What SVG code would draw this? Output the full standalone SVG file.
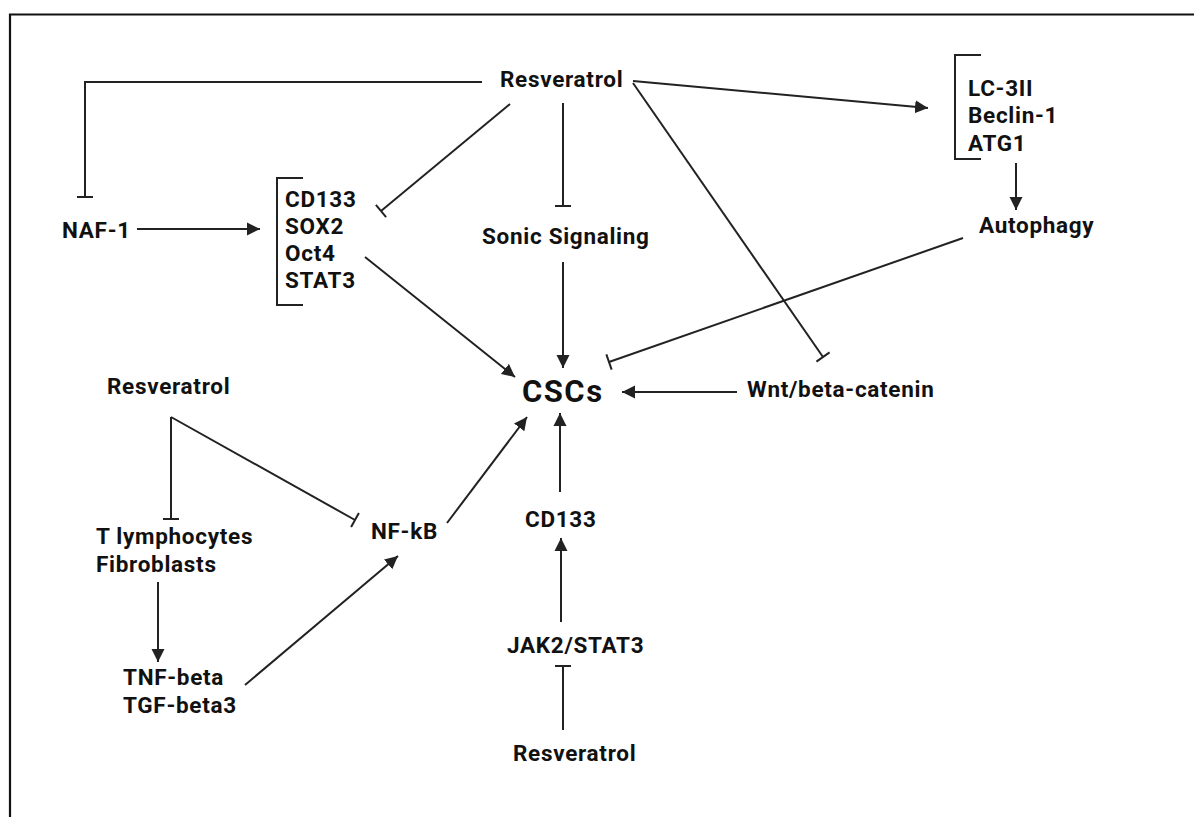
<svg xmlns="http://www.w3.org/2000/svg" width="1194" height="817" viewBox="0 0 1194 817">
<style>
  .t { font-family: Roboto, "Liberation Sans", sans-serif; font-weight: 700; font-size: 22.5px; letter-spacing: 0.7px; fill: #111; }
  .big { font-size: 31px; letter-spacing: 1.5px; }
  .c { fill: none; stroke: #222; stroke-width: 2; }
  .a { marker-end: url(#arrow); }
  .i { marker-end: url(#tee); }
</style>
<defs>
  <marker id="arrow" markerUnits="userSpaceOnUse" viewBox="0 0 14 14" refX="13" refY="7" markerWidth="14" markerHeight="14" orient="auto">
    <path d="M0,0.5 L13,7 L0,13.5 z" fill="#222"/>
  </marker>
  <marker id="tee" markerUnits="userSpaceOnUse" viewBox="-2 -9 4 18" refX="0" refY="0" markerWidth="4" markerHeight="18" orient="auto">
    <path d="M0,-8 L0,8" stroke="#222" stroke-width="2"/>
  </marker>
</defs>
<rect width="1194" height="817" fill="#fff"/>
<path d="M10,817 L10,14.5 L1194,14.5" fill="none" stroke="#111" stroke-width="2.2"/>

<g id="connectors">
  <polyline class="c i" points="482,82 85,82 85,197"/>
  <line class="c a" x1="137" y1="229" x2="260" y2="229"/>
  <line class="c i" x1="510" y1="104" x2="381" y2="211"/>
  <line class="c a" x1="365" y1="257" x2="515" y2="377"/>
  <line class="c i" x1="563" y1="103" x2="563" y2="206"/>
  <line class="c a" x1="563" y1="262" x2="563" y2="368"/>
  <line class="c a" x1="633" y1="81" x2="928" y2="108"/>
  <line class="c i" x1="633" y1="83" x2="823" y2="357"/>
  <line class="c a" x1="1016" y1="163" x2="1016" y2="210"/>
  <line class="c i" x1="963" y1="238" x2="609" y2="362"/>
  <line class="c a" x1="737" y1="392" x2="622" y2="392"/>
  <line class="c a" x1="560" y1="492" x2="560" y2="413"/>
  <line class="c a" x1="561" y1="622" x2="561" y2="538"/>
  <line class="c i" x1="563" y1="730" x2="563" y2="666"/>
  <line class="c a" x1="447" y1="523" x2="527" y2="417"/>
  <line class="c i" x1="171" y1="417" x2="171" y2="519"/>
  <line class="c i" x1="171" y1="417" x2="355" y2="520"/>
  <line class="c a" x1="158" y1="582" x2="158" y2="662"/>
  <line class="c a" x1="245" y1="685" x2="398" y2="556"/>
</g>

<g id="resveratrol-top"><text class="t" x="500" y="87">Resveratrol</text></g>
<g id="naf1"><text class="t" x="62" y="238">NAF-1</text></g>
<g id="stem-markers">
  <path class="c" d="M303,178 L277,178 L277,305 L303,305"/>
  <text class="t" x="285" y="207">CD133</text>
  <text class="t" x="285" y="234">SOX2</text>
  <text class="t" x="285" y="261">Oct4</text>
  <text class="t" x="285" y="288">STAT3</text>
</g>
<g id="sonic"><text class="t" x="482" y="244">Sonic Signaling</text></g>
<g id="cscs"><text class="t big" x="522" y="402">CSCs</text></g>
<g id="autophagy-markers">
  <path class="c" d="M981,55 L955,55 L955,159 L981,159"/>
  <text class="t" x="968" y="96">LC-3II</text>
  <text class="t" x="968" y="123">Beclin-1</text>
  <text class="t" x="968" y="151">ATG1</text>
</g>
<g id="autophagy"><text class="t" x="979" y="233">Autophagy</text></g>
<g id="wnt"><text class="t" x="747" y="397">Wnt/beta-catenin</text></g>
<g id="cd133"><text class="t" x="525" y="527">CD133</text></g>
<g id="jak2"><text class="t" x="507" y="653">JAK2/STAT3</text></g>
<g id="resveratrol-bottom"><text class="t" x="513" y="761">Resveratrol</text></g>
<g id="resveratrol-left"><text class="t" x="107" y="394">Resveratrol</text></g>
<g id="nfkb"><text class="t" x="371" y="539">NF-kB</text></g>
<g id="cells">
  <text class="t" x="96" y="544">T lymphocytes</text>
  <text class="t" x="96" y="572">Fibroblasts</text>
</g>
<g id="cytokines">
  <text class="t" x="123" y="685">TNF-beta</text>
  <text class="t" x="123" y="713">TGF-beta3</text>
</g>
</svg>
